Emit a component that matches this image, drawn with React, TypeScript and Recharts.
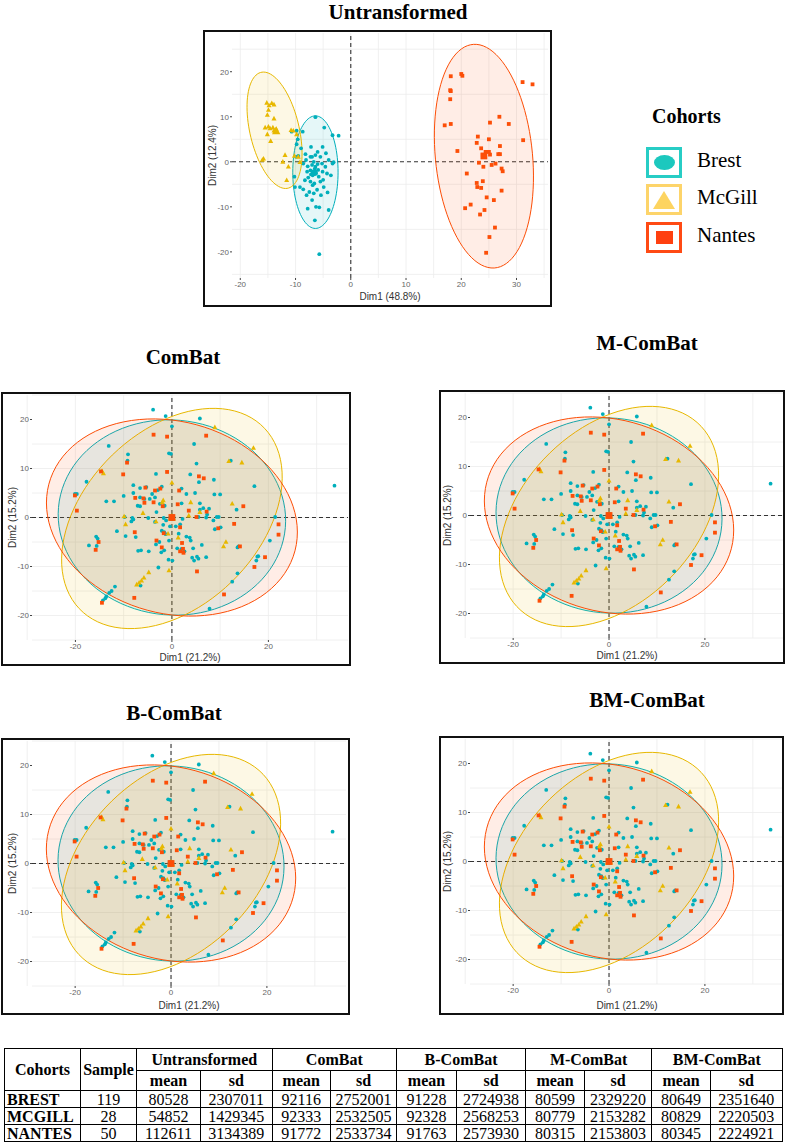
import React from "react";
import { ScatterChart, Scatter, XAxis, YAxis, CartesianGrid, ReferenceLine } from "recharts";

type Pt = [number, number];

const TEAL = "#00AFBB";
const GOLD = "#E7B800";
const RED = "#FC4E07";

// Untransformed PCA scores [Dim1, Dim2]
const rawBrest: Pt[] = [
  [-6.4, 9.9], [-4.8, 7.6], [-3.3, 5.9], [-2.2, 5.8], [-9.8, 6.9], [-8.7, 6.7], [-10.7, 6.7], [-9.6, 5.0],
  [-9.8, 3.9], [-9.0, 3.0], [-7.2, 3.3], [-5.1, 3.3], [-6.0, 2.2], [-4.5, 1.9], [-8.2, 1.7], [-9.5, 1.3],
  [-9.9, 1.1], [-7.3, 1.1], [-6.4, 1.5], [-5.5, 1.1], [-7.0, 1.1], [-4.0, 0.4], [-3.1, -0.1], [-3.3, -0.4],
  [-5.2, -0.4], [-6.7, 0.0], [-8.1, 0.4], [-8.6, -0.4], [-7.0, -0.7], [-6.4, -1.1], [-6.0, -0.5], [-7.8, -1.0],
  [-4.6, -1.1], [-7.3, -1.9], [-6.7, -2.2], [-5.1, -2.2], [-6.3, -2.6], [-4.3, -2.6], [-6.9, -3.0], [-7.2, -2.8],
  [-5.8, -3.3], [-7.7, -3.5], [-10.2, -3.3], [-8.3, -4.1], [-7.3, -4.4], [-5.5, -4.4], [-6.6, -4.8], [-6.9, -5.2],
  [-4.9, -5.6], [-9.2, -5.6], [-10.1, -5.6], [-8.6, -6.1], [-6.1, -6.2], [-7.5, -6.7], [-6.7, -7.0], [-5.4, -7.4],
  [-8.0, -7.4], [-7.0, -8.5], [-7.8, -10.4], [-6.3, -10.0], [-5.7, -10.1], [-4.0, -10.7], [-6.5, -13.0], [-5.7, -20.5],
  [-6.5, -1.5], [-5.9, -1.8], [-7.9, -2.2], [-5.0, -4.0], [-3.6, -3.0], [-4.2, -6.8],
];
const rawMcgill: Pt[] = [
  [-15.2, 13.1], [-14.8, 12.5], [-14.3, 13.0], [-13.9, 12.7], [-14.9, 11.5], [-15.1, 10.4], [-13.9, 9.6],
  [-15.5, 7.6], [-14.9, 7.8], [-14.6, 7.4], [-14.1, 7.6], [-13.9, 6.9], [-13.5, 7.3], [-15.1, 6.1],
  [-14.5, 4.6], [-15.8, 0.7], [-16.0, 0.4], [-12.3, 0.0], [-11.9, 1.5], [-11.3, -1.1], [-11.6, -4.1],
  [-10.8, 7.0], [-10.4, 6.9], [-9.8, 6.1], [-9.5, 1.1], [-9.2, -0.1], [-10.2, 1.3], [-13.4, 6.7],
];
const rawNantes: Pt[] = [
  [18.1, 19.0], [20.0, 19.5], [20.2, 19.1], [18.0, 15.9], [18.1, 15.7], [18.0, 13.9], [17.0, 8.1], [18.1, 8.4],
  [31.1, 17.7], [32.9, 17.2], [26.9, 10.0], [25.2, 8.7], [28.6, 8.4], [23.0, 5.6], [25.0, 5.0], [31.2, 4.8],
  [22.8, 4.2], [23.6, 3.0], [27.0, 3.5], [19.3, 2.4], [24.4, 2.2], [25.0, 2.2], [25.2, 1.6], [23.9, 1.5],
  [24.3, 1.1], [26.7, 1.7], [27.0, 1.7], [23.2, -0.2], [24.0, -1.1], [25.5, -0.7], [26.2, -0.4], [27.3, -1.5],
  [27.5, -2.1], [21.0, -2.6], [22.8, -4.7], [22.9, -5.6], [23.6, -5.8], [23.9, -4.3], [27.3, -6.4], [24.6, -7.9],
  [25.9, -8.5], [21.7, -9.5], [20.7, -10.3], [24.2, -10.7], [23.4, -11.7], [26.1, -14.6], [25.1, -16.7], [24.5, -20.2],
];
const rawMeans: Pt[] = [[-6.6, -2.4], [-13.5, 6.8], [24.1, 1.3]];

// ComBat family scores (ComBat, M-, B- and BM-ComBat look the same)
const combatBrest: Pt[] = [
  [-3.9, 22.0], [-1.3, 20.7], [0, 18.6], [5.8, 20.2], [-13.1, 14.6], [4.6, 15.0], [-9.1, 12.9], [-9.2, 11.6],
  [-0.6, 13.1], [-0.2, 13.0], [5.1, 11.0], [12.2, 11.6], [-3.3, 8.9], [3.8, 8.8], [5.6, 7.2], [8.7, 7.7],
  [17.1, 6.4], [33.7, 6.5], [-17.7, 7.3], [-20.1, 4.8], [-8.0, 6.6], [-6.6, 6.0], [-5.3, 6.2], [-4.1, 4.8],
  [-2.9, 5.6], [-2.1, 6.3], [-8.0, 5.0], [-10.0, 4.4], [-12.0, 3.3], [-6.6, 4.1], [-5.7, 3.8], [-4.6, 3.8],
  [-3.5, 4.1], [-7.1, 2.4], [-6.6, 2.3], [-2.5, 2.8], [-1.5, 2.4], [2.0, 5.9], [3.0, 4.8], [4.8, 5.0],
  [5.8, 2.9], [6.5, 1.9], [7.7, 1.8], [8.8, 4.7], [10.0, 4.7], [2.0, 2.9], [-3.2, 1.1], [-1.7, -0.1],
  [-1.2, -0.6], [-8.0, -0.4], [-8.4, -0.8], [-4.9, -0.1], [-1.8, -1.5], [-2.1, -2.7], [-0.4, -1.8], [0.8, -1.8],
  [1.7, -1.4], [2.2, -0.3], [5.8, 1.6], [7.3, 0.6], [7.1, 0.0], [9.3, 0.1], [8.9, -2.4], [10.1, -2.0],
  [-11.4, -2.8], [-9.6, -3.8], [-7.5, -4.0], [-1.6, -3.0], [-1.3, -3.4], [1.4, -3.3], [3.0, -3.9], [3.7, -4.1],
  [3.9, -4.7], [4.4, -6.3], [6.2, -5.6], [-0.6, -4.7], [-2.6, -5.0], [-3.3, -5.5], [-1.6, -6.7], [-2.2, -7.1],
  [-6.4, -6.7], [-7.0, -6.8], [-4.8, -6.9], [1.1, -6.3], [2.0, -6.4], [2.6, -6.9], [4.2, -8.2], [4.6, -8.8],
  [5.2, -8.0], [5.5, -8.4], [7.1, -8.1], [-0.7, -8.6], [0.1, -8.8], [-2.8, -10.2], [-15.7, -3.9], [-15.4, -4.3],
  [-17.2, -5.7], [-15.6, -5.8], [-19.7, 4.8], [-13.6, 3.3], [-9.8, 0.1], [-8.2, -0.1], [-3.5, -0.9], [13.6, -6.1],
  [13.8, -5.9], [17.5, -8.8], [17.7, -8.0], [17.9, -7.9], [20.3, -4.7], [13.6, -11.4], [12.5, -13.1], [7.8, -18.6],
  [-6.5, -13.9], [-11.8, -14.1], [-12.5, -15.0], [-13.0, -15.4], [-13.6, -16.1], [-13.8, -16.5], [-14.3, -16.9],
  [8.6, -0.6], [9.7, 0.1], [5.5, 0.1], [13.4, 1.6], [21.4, 0.1],
];
const combatMcgill: Pt[] = [
  [8.9, 18.4], [16.9, 14.2], [11.8, 11.5], [14.5, 11.2], [-14.5, 9.5], [-14.2, 9.0], [0, 7.1], [-1.8, 3.5],
  [-2.0, 3.1], [3.9, 3.1], [12.5, 2.8], [-6.0, 0.9], [-9.9, 0.2], [-9.6, -1.4], [-3.3, -0.8], [5.8, 1.1],
  [3.5, 0.4], [-0.8, -3.3], [1.3, -4.1], [11.2, -5.0], [10.7, -5.9], [-4.8, -11.2], [-5.8, -12.3], [-6.3, -12.9],
  [-6.8, -13.3], [-7.3, -13.7], [-0.6, -10.8],
];
const combatNantes: Pt[] = [
  [-3.8, 16.9], [-1.0, 16.5], [7.1, 16.7], [-9.3, 11.2], [-14.7, 9.4], [-10.1, 8.8], [-1.0, 9.3], [5.6, 8.4],
  [6.6, 8.0], [-20.1, 4.5], [-19.7, 1.4], [-7.6, 4.0], [-5.5, 6.1], [-5.9, 3.9], [-5.7, 3.0], [-3.8, 3.1],
  [-3.5, 5.5], [-2.4, 5.9], [-1.9, 2.3], [1.5, 5.5], [1.2, 2.7], [3.5, 1.4], [7.2, 1.2], [5.1, 0.1],
  [14.8, 2.3], [22.1, -1.4], [22.1, -3.5], [12.9, -1.3], [9.6, -2.2], [-7.7, -3.0], [-1.7, -3.2], [-3.2, -4.7],
  [1.7, -2.0], [2.1, -5.2], [2.3, -6.4], [1.7, -6.9], [2.4, -7.2], [-2.1, -6.1], [-15.2, -5.0], [-15.8, -6.6],
  [14.1, -5.9], [5.2, -11.0], [17.1, -10.1], [19.3, -8.1], [-7.8, -16.4], [-14.5, -17.4], [10.8, -15.7],
];
const combatMeans: Pt[] = [[0, 0], [0, 0], [0, 0]];

// Confidence ellipses [cx, cy, semi-axis a, semi-axis b, angle deg]
const rawEllipseBrest = [-6.4, -2.3, 12.5, 4.1, 90];
const rawEllipseMcgill = [-13.8, 7.0, 13.1, 4.5, -80];
const rawEllipseNantes = [24.1, 1.25, 24.9, 8.8, -85.7];
const combatEllipseBrest = [0, 0, 23.6, 19.9, -5];
const combatEllipseMcgill = [0, -0.2, 26.6, 17.9, 43.7];
const combatEllipseNantes = [0, 0, 26.4, 19.6, -14.9];

// Table
const tableCohorts = ["BREST", "MCGILL", "NANTES"];
const tableSamples = [119, 28, 50];
const tableMethods = ["Untransformed", "ComBat", "B-ComBat", "M-ComBat", "BM-ComBat"];
const tableBrest = [80528, 2307011, 92116, 2752001, 91228, 2724938, 80599, 2329220, 80649, 2351640];
const tableMcgill = [54852, 1429345, 92333, 2532505, 92328, 2568253, 80779, 2153282, 80829, 2220503];
const tableNantes = [112611, 3134389, 91772, 2533734, 91763, 2573930, 80315, 2153803, 80345, 2224921];

const SERIF = "'Liberation Serif', 'Times New Roman', serif";
const SANS = "'Liberation Sans', Arial, sans-serif";

const toXY = (pts: Pt[]) => pts.map(([x, y]) => ({ x, y }));

function ellipseOutline(e: number[]) {
  const [cx, cy, a, b, deg] = e;
  const t = (deg * Math.PI) / 180;
  const out = [];
  for (let i = 0; i <= 96; i++) {
    const u = (i / 96) * 2 * Math.PI;
    out.push({
      x: cx + a * Math.cos(t) * Math.cos(u) - b * Math.sin(t) * Math.sin(u),
      y: cy + a * Math.sin(t) * Math.cos(u) + b * Math.cos(t) * Math.sin(u),
    });
  }
  return out;
}

const Dot = (s: number) => (p: any) => <circle cx={p.cx} cy={p.cy} r={s} fill={TEAL} />;
const Tri = (s: number) => (p: any) => (
  <polygon
    points={`${p.cx},${p.cy - s * 1.2} ${p.cx + s * 1.1},${p.cy + s * 0.8} ${p.cx - s * 1.1},${p.cy + s * 0.8}`}
    fill={GOLD}
  />
);
const Sq = (s: number) => (p: any) => <rect x={p.cx - s} y={p.cy - s} width={s * 2} height={s * 2} fill={RED} />;
const Nothing = () => <g />;

interface PanelProps {
  left: number;
  top: number;
  w: number;
  h: number;
  plotLeft: number;
  plotW: number;
  plotTop: number;
  plotH: number;
  xDomain: [number, number];
  yDomain: [number, number];
  xTicks: number[];
  xGrid: number[];
  yGrid: number[];
  xLabel: string;
  yLabel: string;
  xLabelOffset: number;
  yLabelX: number;
  brest: Pt[];
  mcgill: Pt[];
  nantes: Pt[];
  means: Pt[];
  ellipses: number[][];
}

function PcaPanel(p: PanelProps) {
  const colors = [TEAL, GOLD, RED];
  const fills = ["rgba(0,175,187,0.1)", "rgba(231,184,0,0.1)", "rgba(252,78,7,0.1)"];
  const tick = { fontSize: 8, fill: "#666", fontFamily: SANS };
  return (
    <div style={{ position: "absolute", left: p.left, top: p.top, width: p.w, height: p.h }}>
      <ScatterChart
        width={p.w}
        height={p.h}
        margin={{ top: p.plotTop, left: 0, right: p.w - p.plotLeft - p.plotW, bottom: 0 }}
      >
        <CartesianGrid stroke="#ececec" strokeWidth={0.8} verticalValues={p.xGrid} horizontalValues={p.yGrid} />
        <XAxis
          type="number"
          dataKey="x"
          domain={p.xDomain}
          ticks={p.xTicks}
          allowDataOverflow
          height={p.h - p.plotTop - p.plotH}
          axisLine={false}
          tickSize={2}
          tickMargin={1}
          tickLine={{ stroke: "#444" }}
          tick={tick}
          label={{ value: p.xLabel, position: "insideBottom", offset: p.xLabelOffset, fontSize: 10, fill: "#333", fontFamily: SANS }}
        />
        <YAxis
          type="number"
          dataKey="y"
          domain={p.yDomain}
          ticks={[-20, -10, 0, 10, 20]}
          allowDataOverflow
          width={p.plotLeft}
          axisLine={false}
          tickSize={2}
          tickMargin={1}
          tickLine={{ stroke: "#444" }}
          tick={tick}
          label={{
            value: p.yLabel,
            angle: -90,
            position: "insideLeft",
            offset: p.yLabelX,
            fontSize: 10,
            fill: "#333",
            fontFamily: SANS,
            style: { textAnchor: "middle" },
          }}
        />
        {p.ellipses.map((e, i) => (
          <Scatter
            key={`ell-${i}`}
            data={ellipseOutline(e)}
            line={{ stroke: colors[i], strokeWidth: 1, fill: fills[i] }}
            lineJointType="linear"
            shape={Nothing}
            isAnimationActive={false}
          />
        ))}
        <ReferenceLine x={0} stroke="#333" strokeDasharray="4 3" strokeWidth={1.1} />
        <ReferenceLine y={0} stroke="#333" strokeDasharray="4 3" strokeWidth={1.1} />
        <Scatter data={toXY(p.brest)} shape={Dot(1.9)} isAnimationActive={false} />
        <Scatter data={toXY(p.mcgill)} shape={Tri(2.3)} isAnimationActive={false} />
        <Scatter data={toXY(p.nantes)} shape={Sq(1.9)} isAnimationActive={false} />
        <Scatter data={toXY([p.means[0]])} shape={Dot(3.4)} isAnimationActive={false} />
        <Scatter data={toXY([p.means[1]])} shape={Tri(3.8)} isAnimationActive={false} />
        <Scatter data={toXY([p.means[2]])} shape={Sq(3.4)} isAnimationActive={false} />
      </ScatterChart>
      <div
        style={{
          position: "absolute",
          inset: 0,
          border: "2px solid #111",
          boxSizing: "border-box",
          pointerEvents: "none",
        }}
      />
    </div>
  );
}

function Title({ text, cx, cy }: { text: string; cx: number; cy: number }) {
  return (
    <div
      style={{
        position: "absolute",
        left: cx,
        top: cy,
        transform: "translate(-50%, -50%)",
        fontFamily: SERIF,
        fontWeight: 700,
        fontSize: 21,
        lineHeight: 1,
        whiteSpace: "nowrap",
        color: "#000",
      }}
    >
      {text}
    </div>
  );
}

function CohortLegend() {
  const items = [
    { label: "Brest", border: "#27cdc5", top: 147, icon: <div style={{ width: 21, height: 15, borderRadius: "50%", background: "#1cc8be" }} /> },
    {
      label: "McGill",
      border: "#fdd46a",
      top: 184,
      icon: <div style={{ width: 0, height: 0, borderLeft: "11px solid transparent", borderRight: "11px solid transparent", borderBottom: "18px solid #fdd460" }} />,
    },
    { label: "Nantes", border: "#ff4a14", top: 222, icon: <div style={{ width: 17, height: 13, background: "#ff4010" }} /> },
  ];
  return (
    <>
      <div style={{ position: "absolute", left: 652, top: 106, fontFamily: SERIF, fontWeight: 700, fontSize: 20, lineHeight: 1 }}>
        Cohorts
      </div>
      {items.map((it) => (
        <React.Fragment key={it.label}>
          <div
            style={{
              position: "absolute",
              left: 646,
              top: it.top,
              width: 36,
              height: 31,
              border: `3px solid ${it.border}`,
              boxSizing: "border-box",
              display: "flex",
              alignItems: "center",
              justifyContent: "center",
            }}
          >
            {it.icon}
          </div>
          <div
            style={{
              position: "absolute",
              left: 697,
              top: it.top + 3,
              fontFamily: SERIF,
              fontSize: 21,
              lineHeight: 1,
            }}
          >
            {it.label}
          </div>
        </React.Fragment>
      ))}
    </>
  );
}

function StatsTable() {
  const widths = [76, 56, 64, 71.5, 58.5, 66, 60, 69, 59, 67, 59, 71.5];
  const cell: React.CSSProperties = {
    border: "1px solid #000",
    padding: 0,
    textAlign: "center",
    fontFamily: SERIF,
    fontSize: 16,
    lineHeight: "15px",
    overflow: "hidden",
    whiteSpace: "nowrap",
  };
  const head: React.CSSProperties = { ...cell, fontWeight: 700 };
  const rows = [tableBrest, tableMcgill, tableNantes];
  return (
    <table
      style={{
        position: "absolute",
        left: 4,
        top: 1048,
        width: 778,
        borderCollapse: "collapse",
        tableLayout: "fixed",
        border: "1.5px solid #000",
      }}
    >
      <colgroup>
        {widths.map((w, i) => (
          <col key={i} style={{ width: w }} />
        ))}
      </colgroup>
      <tbody>
        <tr style={{ height: 22 }}>
          <td rowSpan={2} style={head}>Cohorts</td>
          <td rowSpan={2} style={head}>Sample</td>
          {tableMethods.map((m) => (
            <td key={m} colSpan={2} style={head}>{m}</td>
          ))}
        </tr>
        <tr style={{ height: 20 }}>
          {tableMethods.map((m) => (
            <React.Fragment key={m}>
              <td style={head}>mean</td>
              <td style={head}>sd</td>
            </React.Fragment>
          ))}
        </tr>
        {rows.map((r, i) => (
          <tr key={tableCohorts[i]} style={{ height: 17 }}>
            <td style={{ ...head, textAlign: "left", paddingLeft: 2 }}>{tableCohorts[i]}</td>
            <td style={cell}>{tableSamples[i]}</td>
            {r.map((v, j) => (
              <td key={j} style={cell}>{v}</td>
            ))}
          </tr>
        ))}
      </tbody>
    </table>
  );
}

const lowerCommon = {
  plotLeft: 31,
  plotTop: 3,
  plotH: 245,
  xDomain: [-29, 36.5] as [number, number],
  yDomain: [-25, 25] as [number, number],
  xTicks: [-20, 0, 20],
  xGrid: [-30, -20, -10, 0, 10, 20, 30],
  yGrid: [-25, -20, -15, -10, -5, 0, 5, 10, 15, 20, 25],
  xLabel: "Dim1 (21.2%)",
  yLabel: "Dim2 (15.2%)",
  brest: combatBrest,
  mcgill: combatMcgill,
  nantes: combatNantes,
  means: combatMeans,
  ellipses: [combatEllipseBrest, combatEllipseMcgill, combatEllipseNantes],
};

export default function App() {
  return (
    <div style={{ position: "absolute", left: 0, top: 0, width: 786, height: 1145, background: "#fff", overflow: "hidden" }}>
      <Title text="Untransformed" cx={398} cy={12} />
      <PcaPanel
        left={203}
        top={30}
        w={349}
        h={277}
        plotLeft={29}
        plotW={316}
        plotTop={3}
        plotH={245}
        xDomain={[-21.5, 35.7]}
        yDomain={[-25.8, 28.6]}
        xTicks={[-20, -10, 0, 10, 20, 30]}
        xGrid={[-20, -15, -10, -5, 0, 5, 10, 15, 20, 25, 30, 35]}
        yGrid={[-25, -20, -15, -10, -5, 0, 5, 10, 15, 20, 25]}
        xLabel="Dim1 (48.8%)"
        yLabel="Dim2 (12.4%)"
        xLabelOffset={7.5}
        yLabelX={9}
        brest={rawBrest}
        mcgill={rawMcgill}
        nantes={rawNantes}
        means={rawMeans}
        ellipses={[rawEllipseBrest, rawEllipseMcgill, rawEllipseNantes]}
      />
      <CohortLegend />

      <Title text="ComBat" cx={183} cy={357} />
      <PcaPanel {...lowerCommon} left={1} top={392} w={350} h={274} plotW={316} xLabelOffset={5.5} yLabelX={11} />

      <Title text="M-ComBat" cx={647} cy={343} />
      <PcaPanel {...lowerCommon} left={439} top={390} w={346} h={274} plotW={314} xLabelOffset={5.5} yLabelX={8} />

      <Title text="B-ComBat" cx={174} cy={713} />
      <PcaPanel {...lowerCommon} left={1} top={738} w={349} h={277} plotW={314} xLabelOffset={6.5} yLabelX={11} />

      <Title text="BM-ComBat" cx={647} cy={700} />
      <PcaPanel {...lowerCommon} left={439} top={736} w={345} h={279} plotW={314} xLabelOffset={6.5} yLabelX={8} />

      <StatsTable />
    </div>
  );
}
